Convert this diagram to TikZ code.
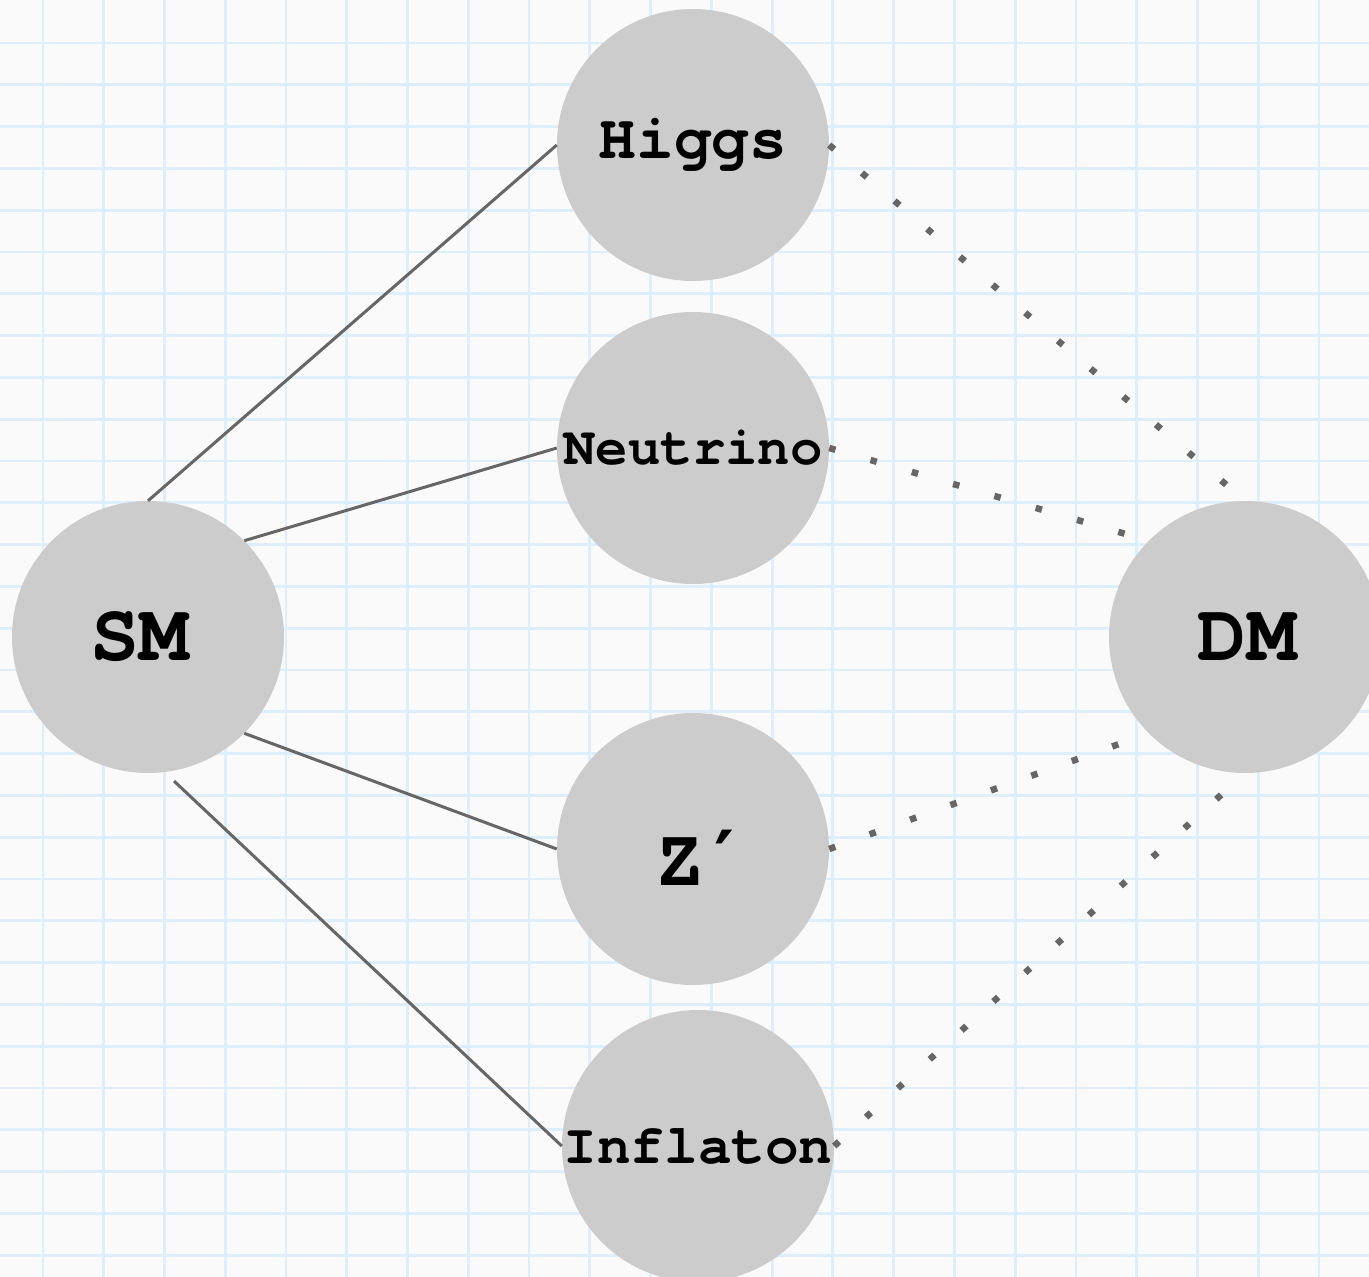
\documentclass[tikz,border=0pt]{standalone}
\usepackage{fontspec}
\setmonofont{texgyrecursor}[Extension=.otf,UprightFont=*-regular,BoldFont=*-bold,Ligatures=NoCommon]
\newfontfamily\primefont{DejaVu Sans}
\definecolor{bgc}{HTML}{FAFAFA}
\definecolor{gridc}{HTML}{DDEEFC}
\definecolor{nodec}{HTML}{CCCCCC}
\definecolor{linec}{HTML}{666666}
\begin{document}
\begin{tikzpicture}[x=1pt,y=-1pt,
  ball/.style={circle,fill=nodec,minimum size=272pt,inner sep=0pt,font=\ttfamily\bfseries,text=black},
  solidlink/.style={draw=linec,line width=3pt},
  dotlink/.style={draw=linec,line width=6.5pt,dash pattern=on 6.5pt off 36.5pt},
  gridline/.style={draw=gridc,line width=2.8pt}]
\fill[bgc] (0,0) rectangle (1369,1277);
\useasboundingbox (0,0) rectangle (1369,1277);
\begin{scope}
\clip (0,0) rectangle (1369,1277);
\foreach \i in {0,...,21} \draw[gridline] (43+60.76*\i,0) -- (43+60.76*\i,1277);
\foreach \j in {0,...,29} \draw[gridline] (0,43+41.8*\j) -- (1369,43+41.8*\j);
\end{scope}
\node[ball] (SM) at (148,637) {\fontsize{82}{82}\selectfont \hbox{SM}\kern17pt};
\node[ball] (DM) at (1245,637) {\fontsize{82}{82}\selectfont \kern4pt\hbox{DM}};
\node[ball] (Higgs) at (693,145) {\fontsize{63}{63}\selectfont Higgs};
\node[ball] (Neutrino) at (693,448) {\fontsize{54}{54}\selectfont Neutrino};
\node[ball] (Zp) at (693,849) {};
\node[font=\ttfamily\bfseries,inner sep=0pt] (Zlab) at (695,858) {\fontsize{82}{82}\selectfont Z\kern10pt{\primefont\bfseries\fontsize{76}{76}\selectfont ′}};
\node[ball] (Inflaton) at (698,1146) {\fontsize{56}{56}\selectfont Inflaton};
\draw[solidlink] (SM.north) -- (Higgs.west);
\draw[solidlink] (SM.45) -- (Neutrino.west);
\draw[solidlink] (SM.-45) -- (Zp.west);
\draw[solidlink,shorten <=13pt] (SM.-83) -- (Inflaton.west);
\draw[dotlink] (Higgs.east) -- (DM.north);
\draw[dotlink] (Neutrino.east) -- (DM.135);
\draw[dotlink] (Zp.east) -- (DM.225);
\draw[dotlink] (Inflaton.east) -- (DM.south);
\end{tikzpicture}
\end{document}
